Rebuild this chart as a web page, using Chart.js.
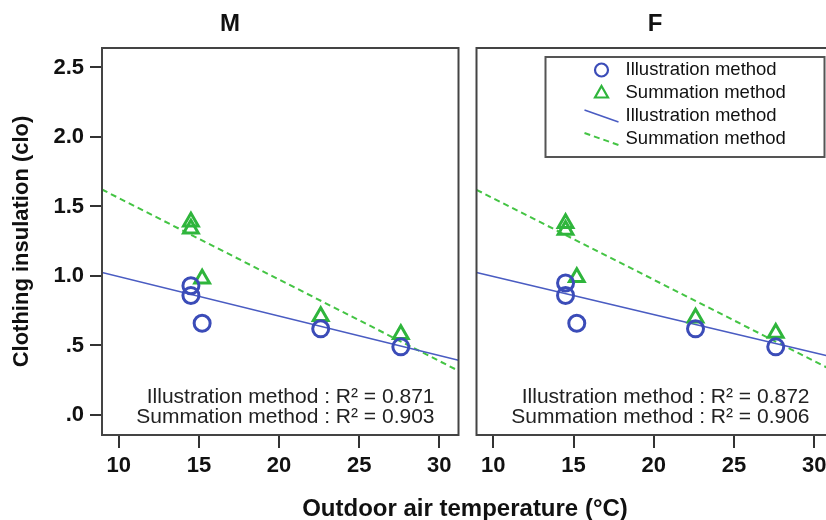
<!DOCTYPE html>
<html>
<head>
<meta charset="utf-8">
<script src="https://cdn.jsdelivr.net/npm/chart.js@4.4.1/dist/chart.umd.min.js"></script>
<style>
  html, body { margin: 0; padding: 0; background: #fff; }
  #wrap { position: relative; width: 826px; height: 520px; overflow: hidden; }
  #boxM { position: absolute; left: 0; top: 0; width: 470px; height: 520px; }
  #boxF { position: absolute; left: 465px; top: 0; width: 380px; height: 520px; }
  #xTitle { position: absolute; left: 165px; width: 600px; top: 494px; text-align: center;
            font: bold 24px "Liberation Sans", Arial, sans-serif; color: #111; }
</style>
</head>
<body>
<div id="wrap">
  <div id="boxM"><canvas id="chartM"></canvas></div>
  <div id="boxF"><canvas id="chartF"></canvas></div>
  <div id="xTitle">Outdoor air temperature (°C)</div>
</div>
<script>
// data
var methods = ['Illustration method', 'Summation method'];
var yTickLabels = ['.0', '.5', '1.0', '1.5', '2.0', '2.5'];

var tempM = [14.5, 14.5, 15.2, 22.6, 27.6];
var illusM = [0.93, 0.86, 0.66, 0.62, 0.49];
var summM = [1.39, 1.34, 0.98, 0.71, 0.58];
var r2M = [0.871, 0.903];

var tempF = [14.5, 14.5, 15.2, 22.6, 27.6];
var illusF = [0.95, 0.86, 0.66, 0.62, 0.49];
var summF = [1.38, 1.33, 0.99, 0.70, 0.59];
var r2F = [0.872, 0.906];

// fitted lines, ends at the plot edges
var fitX = [8.95, 31.2];
var illusFitM = [1.025, 0.394];
var summFitM = [1.622, 0.318];
var illusFitF = [1.025, 0.416];
var summFitF = [1.620, 0.317];

var BLUE = '#3b4cb8';
var GREEN = '#2fb53c';
var LINE_BLUE = '#4a5cc2';
var LINE_GREEN = '#44c444';
var FONT = '"Liberation Sans", Arial, sans-serif';

Chart.defaults.font.family = FONT;
Chart.defaults.color = '#111';

function pts(xs, ys) {
    var out = [];
    for (var i = 0; i < xs.length; i++) out.push({ x: xs[i], y: ys[i] });
    return out;
}

// frame round the plot area, R² notes and the boxed legend
var panelPlugin = {
    id: 'panel',
    afterDraw: function (chart, args, opts) {
        var a = chart.chartArea, ctx = chart.ctx;
        ctx.save();
        ctx.strokeStyle = '#444';
        ctx.lineWidth = 2;
        ctx.strokeRect(a.left, a.top, a.right - a.left, a.bottom - a.top);

        ctx.font = '21px ' + FONT;
        ctx.fillStyle = '#222';
        ctx.textAlign = 'right';
        ctx.textBaseline = 'middle';
        ctx.fillText(methods[0] + ' : R\u00b2 = ' + opts.r2[0].toFixed(3), a.right - 24, a.bottom - 38);
        ctx.fillText(methods[1] + ' : R\u00b2 = ' + opts.r2[1].toFixed(3), a.right - 24, a.bottom - 18);

        if (opts.legend) {
            var x0 = a.left + 69, y0 = a.top + 9;
            ctx.strokeStyle = '#555';
            ctx.lineWidth = 2;
            ctx.strokeRect(x0, y0, 279, 100);
            ctx.font = '18.5px ' + FONT;
            ctx.textAlign = 'left';
            ctx.fillStyle = '#111';
            var sx = x0 + 56;
            chart.data.datasets.forEach(function (ds, i) {
                var y = y0 + 13 + i * 23;
                ctx.save();
                ctx.strokeStyle = ds.borderColor;
                if (ds.showLine) {
                    ctx.lineWidth = ds.borderWidth;
                    ctx.setLineDash(ds.borderDash || []);
                    ctx.beginPath();
                    ctx.moveTo(x0 + 39, y - 6);
                    ctx.lineTo(x0 + 73, y + 6);
                    ctx.stroke();
                } else {
                    ctx.lineWidth = 2.2;
                    ctx.beginPath();
                    if (ds.pointStyle === 'circle') {
                        ctx.arc(sx, y, 6.5, 0, Math.PI * 2);
                    } else {
                        ctx.moveTo(sx, y - 7);
                        ctx.lineTo(sx + 6.5, y + 4.5);
                        ctx.lineTo(sx - 6.5, y + 4.5);
                        ctx.closePath();
                    }
                    ctx.stroke();
                }
                ctx.restore();
                ctx.fillText(ds.label, x0 + 80, y);
            });
        }
        ctx.restore();
    }
};

function makeChart(id, title, xs, illus, summ, illusFit, summFit, r2, isLeft) {
    return new Chart(document.getElementById(id), {
        type: 'scatter',
        data: {
            datasets: [
                { label: methods[0], data: pts(xs, illus), pointStyle: 'circle', pointRadius: 8,
                  borderColor: BLUE, backgroundColor: 'rgba(0,0,0,0)', pointBorderWidth: 3, order: 0 },
                { label: methods[1], data: pts(xs, summ), pointStyle: 'triangle', pointRadius: 8.5,
                  borderColor: GREEN, backgroundColor: 'rgba(0,0,0,0)', pointBorderWidth: 3, order: 0 },
                { label: methods[0], data: pts(fitX, illusFit), showLine: true, pointRadius: 0,
                  borderColor: LINE_BLUE, borderWidth: 1.6, order: 1 },
                { label: methods[1], data: pts(fitX, summFit), showLine: true, pointRadius: 0,
                  borderColor: LINE_GREEN, borderWidth: 2, borderDash: [6, 4], order: 1 }
            ]
        },
        options: {
            responsive: true,
            maintainAspectRatio: false,
            animation: false,
            layout: { padding: { left: isLeft ? 0 : 10, right: 10, top: 0, bottom: 0 } },
            plugins: {
                legend: { display: false },
                tooltip: { enabled: false },
                title: { display: true, text: title, color: '#111',
                         font: { size: 24, weight: 'bold', lineHeight: 1 },
                         padding: { top: 12, bottom: 12 } },
                panel: { r2: r2, legend: !isLeft }
            },
            scales: {
                x: {
                    type: 'linear', min: 8.95, max: 31.2,
                    afterFit: function (s) { s.height = 85; },
                    border: { display: false },
                    grid: { drawOnChartArea: false, drawTicks: true, tickLength: 13, color: '#333', lineWidth: 2 },
                    ticks: { stepSize: 5, includeBounds: false, padding: 5, color: '#111',
                             font: { size: 22, weight: 'bold' } }
                },
                y: {
                    type: 'linear', min: -0.144, max: 2.64,
                    display: isLeft,
                    afterFit: function (s) { s.width = isLeft ? 102 : 0; },
                    border: { display: false },
                    grid: { drawOnChartArea: false, drawTicks: true, tickLength: 12, color: '#333', lineWidth: 2 },
                    ticks: { stepSize: 0.5, includeBounds: false, padding: 6, color: '#111',
                             font: { size: 22, weight: 'bold' },
                             callback: function (v) { return yTickLabels[Math.round(v / 0.5)]; } },
                    title: { display: true, text: 'Clothing insulation (clo)', color: '#111',
                             font: { size: 22, weight: 'bold' }, padding: { top: 9, bottom: 0 } }
                }
            }
        },
        plugins: [panelPlugin]
    });
}

makeChart('chartM', 'M', tempM, illusM, summM, illusFitM, summFitM, r2M, true);
makeChart('chartF', 'F', tempF, illusF, summF, illusFitF, summFitF, r2F, false);
</script>
</body>
</html>
